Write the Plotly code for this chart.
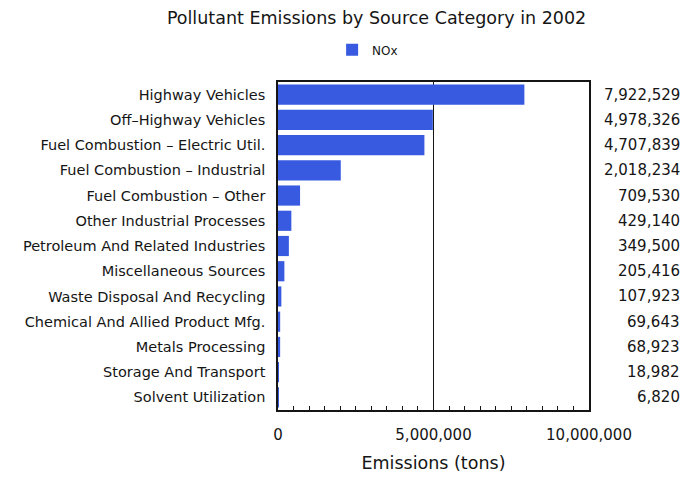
import plotly.graph_objects as go

categories = [
    "Highway Vehicles",
    "Off–Highway Vehicles",
    "Fuel Combustion – Electric Util.",
    "Fuel Combustion – Industrial",
    "Fuel Combustion – Other",
    "Other Industrial Processes",
    "Petroleum And Related Industries",
    "Miscellaneous Sources",
    "Waste Disposal And Recycling",
    "Chemical And Allied Product Mfg.",
    "Metals Processing",
    "Storage And Transport",
    "Solvent Utilization",
]
nox = [7922529, 4978326, 4707839, 2018234, 709530, 429140, 349500,
       205416, 107923, 69643, 68923, 18982, 6820]
x_ticks = [0, 5000000, 10000000]
x_minor_step = 500000

font = "'DejaVu Sans', Verdana, sans-serif"
blue = "rgb(55,90,225)"
ink = "#151515"

fig = go.Figure()
fig.add_trace(go.Bar(
    x=nox, y=categories, orientation="h", name="NOx",
    marker=dict(color=blue, line=dict(width=0)),
))

# value labels on the right of the plot
for cat, v in zip(categories, nox):
    fig.add_annotation(
        x=1.30, xref="paper", y=cat, yref="y",
        text=f"{v:,}", showarrow=False, xanchor="right",
        font=dict(size=15, color=ink),
    )

# page body has an 8px margin, so the figure is 8px smaller than the window
fig.update_layout(
    width=680, height=475,
    margin=dict(l=270, r=99, t=74, b=73),
    paper_bgcolor="white", plot_bgcolor="white",
    font=dict(family=font, size=15, color=ink),
    bargap=0.2,
    title=dict(text="Pollutant Emissions by Source Category in 2002",
               x=0.542, xanchor="center", y=0.979, yanchor="middle",
               font=dict(size=17.5)),
    showlegend=True,
    legend=dict(orientation="h", x=0.174, xanchor="left", y=1.098, yanchor="middle",
                font=dict(size=12), bgcolor="rgba(0,0,0,0)"),
    xaxis=dict(
        range=[x_ticks[0], x_ticks[-1]], tickmode="linear", tick0=x_ticks[0],
        dtick=x_ticks[1] - x_ticks[0], tickformat=",d",
        tickfont=dict(size=15), automargin=False,
        showline=True, linecolor=ink, linewidth=1.5, mirror=True,
        ticks="inside", ticklen=6, tickcolor=ink, ticklabelstandoff=10,
        minor=dict(dtick=x_minor_step, ticks="inside", ticklen=4, tickcolor=ink),
        showgrid=True, gridcolor=ink, gridwidth=1,
        zeroline=False,
        title=dict(text="Emissions (tons)", font=dict(size=17.5), standoff=14),
    ),
    yaxis=dict(
        autorange="reversed", showline=True, linecolor=ink, linewidth=1.5,
        mirror=True, ticks="", showgrid=False, ticklabelstandoff=8,
        tickfont=dict(size=14.5), automargin=False,
    ),
)

fig.write_html("out.html")
